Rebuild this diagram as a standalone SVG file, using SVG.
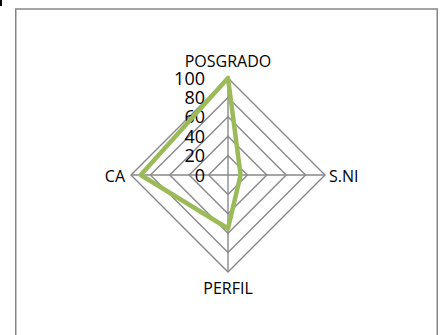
<svg xmlns="http://www.w3.org/2000/svg" width="442" height="335" viewBox="0 0 442 335">
<style>
.grid{fill:none;stroke:#898989;stroke-width:1.4}
.series{fill:none;stroke:#9BBB59;stroke-width:4.5;stroke-linejoin:round}
.lbl{font-family:"Open Sans","Liberation Sans",sans-serif;font-size:16px;fill:#000}
.tick{font-family:"Open Sans","Liberation Sans",sans-serif;font-size:18px;fill:#000;text-anchor:end}
</style>
<rect x="0" y="0" width="442" height="335" fill="#fff"/>
<rect x="0" y="0" width="2" height="6" fill="#000"/>
<rect x="15.75" y="9" width="421.5" height="340" fill="#fff" stroke="#878787" stroke-width="1.5"/>
<g id="grid">
<polygon class="grid" points="228,155.6 247.4,175 228,194.4 208.6,175"/>
<polygon class="grid" points="228,136.2 266.8,175 228,213.8 189.2,175"/>
<polygon class="grid" points="228,116.8 286.2,175 228,233.2 169.8,175"/>
<polygon class="grid" points="228,97.4 305.6,175 228,252.6 150.4,175"/>
<polygon class="grid" points="228,78 325,175 228,272 131,175"/>
<line class="grid" x1="228" y1="78" x2="228" y2="272"/>
<line class="grid" x1="131" y1="175" x2="325" y2="175"/>
</g>
<g id="ticks">
<text class="tick" x="205" y="181.5">0</text>
<text class="tick" x="205" y="162.1">20</text>
<text class="tick" x="205" y="142.7">40</text>
<text class="tick" x="205" y="123.3">60</text>
<text class="tick" x="205" y="103.9">80</text>
<text class="tick" x="205" y="84.5">100</text>
</g>
<g id="series">
<polygon class="series" points="228,78 240.6,175 228,228.5 140.7,175"/>
</g>
<g id="node-posgrado"><text class="lbl" x="228" y="66.5" text-anchor="middle">POSGRADO</text></g>
<g id="node-sni"><text class="lbl" x="329" y="181.5">S.NI</text></g>
<g id="node-perfil"><text class="lbl" x="228" y="294" text-anchor="middle">PERFIL</text></g>
<g id="node-ca"><text class="lbl" x="125" y="181.5" text-anchor="end">CA</text></g>
</svg>
